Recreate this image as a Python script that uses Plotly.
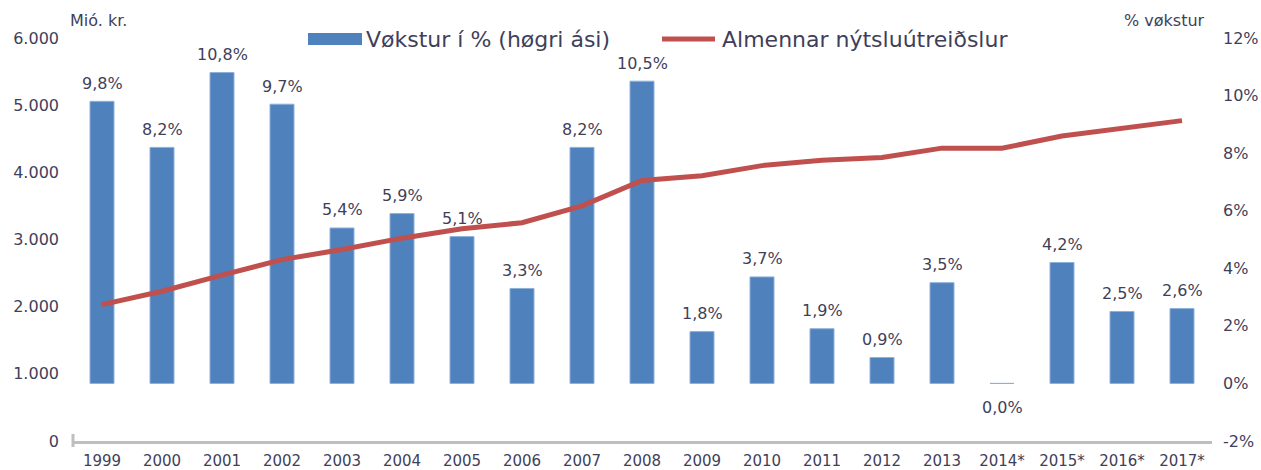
import plotly.graph_objects as go

categories = ["1999", "2000", "2001", "2002", "2003", "2004", "2005", "2006", "2007", "2008",
              "2009", "2010", "2011", "2012", "2013", "2014*", "2015*", "2016*", "2017*"]
growth_pct = [9.8, 8.2, 10.8, 9.7, 5.4, 5.9, 5.1, 3.3, 8.2, 10.5,
              1.8, 3.7, 1.9, 0.9, 3.5, 0.0, 4.2, 2.5, 2.6]
consumption = [2030, 2230, 2470, 2700, 2850, 3020, 3160, 3250, 3500, 3880,
               3950, 4100, 4180, 4220, 4360, 4360, 4540, 4660, 4770]
left_ticks = [0, 1000, 2000, 3000, 4000, 5000, 6000]
right_ticks = [-2, 0, 2, 4, 6, 8, 10, 12]
bar_name = "Vøkstur í % (høgri ási)"
line_name = "Almennar nýtsluútreiðslur"

TXT = "#3F3F5A"
FONT = "DejaVu Sans"
BLUE = "#4F81BD"
RED = "#C0504D"

W, H = 1261, 470
ML, MR, MT, MB = 72, 49, 38, 29
PW, PH = W - ML - MR, H - MT - MB


def px(x):
    return (x - ML) / PW


def py(y):
    return (H - MB - y) / PH


fig = go.Figure()
fig.add_trace(go.Bar(
    x=categories, y=growth_pct, name=bar_name,
    marker=dict(color=BLUE, line=dict(color="#8DB0DA", width=1)),
    width=0.4, yaxis="y", hoverinfo="skip", showlegend=False,
))
fig.add_trace(go.Scatter(
    x=categories, y=consumption, name=line_name,
    mode="lines", line=dict(color=RED, width=5), yaxis="y2", showlegend=False,
))

annotations = []
for i, v in enumerate(growth_pct):
    annotations.append(dict(
        x=i, y=v, xref="x", yref="y", text=f"{v:.1f}%".replace(".", ","),
        showarrow=False, yshift=-24 if v == 0 else 18,
        font=dict(family=FONT, size=16, color=TXT),
    ))
annotations.append(dict(x=px(68), y=py(21), xref="paper", yref="paper", xanchor="left", yanchor="middle",
                        text="Mió. kr.", showarrow=False, font=dict(family=FONT, size=16, color=TXT)))
annotations.append(dict(x=px(1207), y=py(20), xref="paper", yref="paper", xanchor="right", yanchor="middle",
                        text="% vøkstur", showarrow=False, font=dict(family=FONT, size=16, color=TXT)))
# legend texts
annotations.append(dict(x=px(364), y=py(39), xref="paper", yref="paper", xanchor="left", yanchor="middle",
                        text=bar_name, showarrow=False, font=dict(family=FONT, size=22, color=TXT)))
annotations.append(dict(x=px(720), y=py(39), xref="paper", yref="paper", xanchor="left", yanchor="middle",
                        text=line_name, showarrow=False, font=dict(family=FONT, size=22, color=TXT)))

shapes = [
    dict(type="rect", xref="paper", yref="paper", x0=px(308), x1=px(362), y0=py(45), y1=py(33),
         fillcolor=BLUE, line=dict(width=0)),
    dict(type="line", xref="paper", yref="paper", x0=px(662), x1=px(715), y0=py(39), y1=py(39),
         line=dict(color=RED, width=5)),
    dict(type="line", xref="paper", yref="paper", x0=px(73), x1=px(73), y0=py(434), y1=py(447),
         line=dict(color="#BFBFBF", width=3)),
]

fig.update_layout(
    width=W, height=H,
    margin=dict(l=ML, r=MR, t=MT, b=MB, autoexpand=False),
    paper_bgcolor="white", plot_bgcolor="white",
    separators=",.",
    font=dict(family=FONT, size=16, color=TXT),
    showlegend=False,
    hovermode=False,
    xaxis=dict(type="category", range=[-0.5, len(categories) - 0.5], autorange=False,
               showline=True, linecolor="#BFBFBF", linewidth=3, automargin=False,
               showgrid=False, ticks="", ticklabelstandoff=4, tickfont=dict(size=15, color=TXT)),
    yaxis=dict(side="right", range=[-2, 12], tickvals=right_ticks,
               ticktext=[f"{t}%" for t in right_ticks], automargin=False, ticklabelstandoff=10,
               showgrid=False, zeroline=False, showline=False, tickfont=dict(size=16, color=TXT)),
    yaxis2=dict(side="left", overlaying="y", range=[0, 6000], tickvals=left_ticks,
                tickformat=",d", showgrid=False, zeroline=False, showline=False,
                automargin=False, ticklabelstandoff=12, tickfont=dict(size=16, color=TXT)),
    annotations=annotations,
    shapes=shapes,
)

fig.write_html("out.html", config={"displayModeBar": False, "staticPlot": True})
with open("out.html", encoding="utf-8") as f:
    html = f.read()
html = html.replace("<head>", "<head><style>html,body{margin:0;padding:0;overflow:hidden;}</style>", 1)
with open("out.html", "w", encoding="utf-8") as f:
    f.write(html)
